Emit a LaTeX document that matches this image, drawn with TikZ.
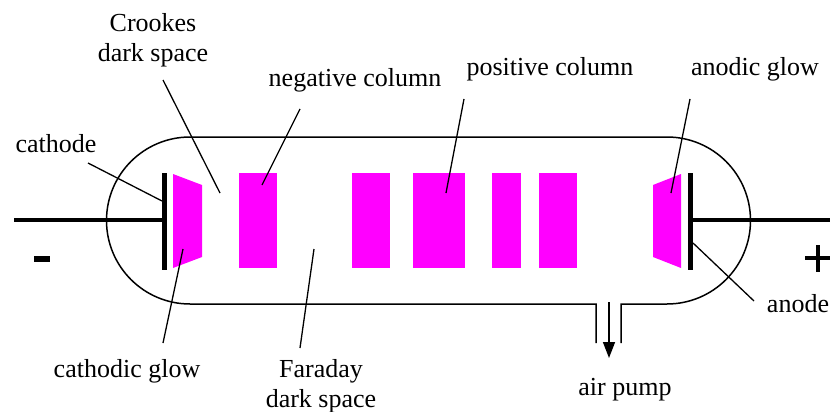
\documentclass[tikz,border=0pt]{standalone}
\usepackage{fontspec}
\setmainfont{Liberation Serif}
\usetikzlibrary{arrows.meta}
\definecolor{glowpink}{RGB}{255,0,255}
\tikzset{
  lbl/.style={inner sep=0pt,anchor=base,align=center,font=\fontsize{26}{30}\selectfont},
  leader/.style={line width=1.3pt},
  tube/.style={line width=1.5pt},
  plate/.style={line width=5pt},
  wire/.style={line width=4.5pt},
  glow/.style={fill=glowpink}
}

\begin{document}
\begin{tikzpicture}[x=1pt,y=-1pt]
  \useasboundingbox (0,0) rectangle (830,412);

  % glass tube with the pump outlet
  \draw[tube] (596,343) -- (596,304) -- (190,304)
    arc[start angle=90,end angle=270,radius=83.5] -- (667,137)
    arc[start angle=-90,end angle=90,radius=83.5] -- (621,304) -- (621,343);
  \draw[line width=1.5pt,-{Triangle[width=12pt,length=16pt]}] (609,302) -- (609,358);

  % electrodes
  \draw[wire] (14,220) -- (164.5,220);
  \draw[plate] (164.5,173) -- (164.5,270);
  \draw[wire] (690,220) -- (830,220);
  \draw[plate] (690,173) -- (690,270);
  \fill (34,256) rectangle (50,262);
  \draw[line width=4pt] (805,258) -- (830,258) (818,245) -- (818,272);

  % glowing regions
  \fill[glow] (173,174) -- (202,185) -- (202,257) -- (173,268) -- cycle;
  \fill[glow] (653,185) -- (681,174) -- (681,268) -- (653,257) -- cycle;
  \foreach \a/\b in {239/277,352/390,413/465,492/521,539/577}
    \fill[glow] (\a,173) rectangle (\b,268);

  % labels (two-line ones sit on their last baseline)
  \node[lbl] (crookes) at (153,62) {Crookes\\dark space};
  \node[lbl] (negcol) at (355,87) {negative column};
  \node[lbl] (poscol) at (550,76) {positive column};
  \node[lbl] (anodic) at (755,76) {anodic glow};
  \node[lbl] (cathode) at (56,152) {cathode};
  \node[lbl] (cathglow) at (127,377) {cathodic glow};
  \node[lbl] (faraday) at (321,407) {Faraday\\dark space};
  \node[lbl] (pump) at (625,395) {air pump};
  \node[lbl] (anode) at (798,312) {anode};

  % leader lines
  \coordinate (crookes-a) at (163,80);   \coordinate (crookes-b) at (220,193);
  \coordinate (negcol-a) at (300,109);   \coordinate (negcol-b) at (262,185);
  \coordinate (poscol-a) at (464,99);    \coordinate (poscol-b) at (446,193);
  \coordinate (anodic-a) at (690,99);    \coordinate (anodic-b) at (671,193);
  \coordinate (cathode-a) at (88,163);   \coordinate (cathode-b) at (162,201);
  \coordinate (cathglow-a) at (183,249); \coordinate (cathglow-b) at (163,343);
  \coordinate (faraday-a) at (314,249);  \coordinate (faraday-b) at (300,348);
  \coordinate (anode-a) at (693,243);    \coordinate (anode-b) at (754,301);
  \foreach \n in {crookes,negcol,poscol,anodic,cathode,cathglow,faraday,anode}
    \draw[leader] (\n-a) -- (\n-b);
\end{tikzpicture}
\end{document}
